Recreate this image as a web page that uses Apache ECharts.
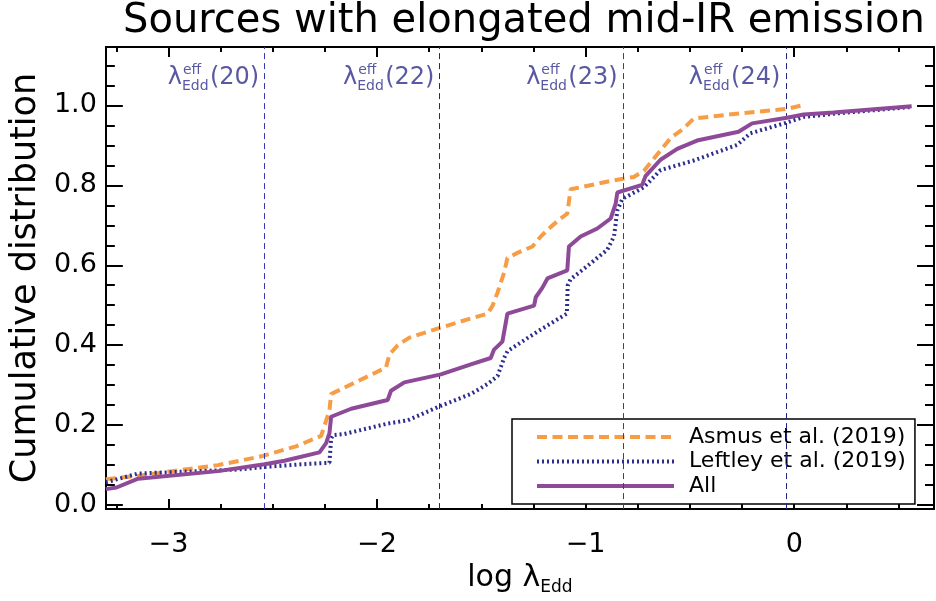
<!DOCTYPE html>
<html>
<head>
<meta charset="utf-8">
<script src="https://cdn.jsdelivr.net/npm/echarts@6/dist/echarts.min.js"></script>
<style>
  html, body { margin: 0; padding: 0; background: #fff; }
  #chart { width: 936px; height: 601px; }
</style>
</head>
<body>
<div id="chart"></div>
<script>
// 累积分布曲线数据
const asmusX = [-3.30, -3.145, -2.98, -2.762, -2.555, -2.388, -2.268, -2.228, -2.220, -2.172, -1.957, -1.941, -1.901, -1.845, -1.694, -1.550, -1.470, -1.446, -1.422, -1.391, -1.375, -1.327, -1.255, -1.215, -1.167, -1.120, -1.088, -1.072, -1.024, -0.880, -0.769, -0.721, -0.657, -0.593, -0.530, -0.482, -0.258, -0.035, 0.037];
const asmusY = [0.065, 0.073, 0.085, 0.100, 0.122, 0.147, 0.173, 0.237, 0.278, 0.290, 0.344, 0.376, 0.400, 0.419, 0.444, 0.467, 0.479, 0.499, 0.532, 0.581, 0.618, 0.631, 0.647, 0.672, 0.696, 0.717, 0.729, 0.790, 0.795, 0.811, 0.821, 0.836, 0.877, 0.918, 0.942, 0.967, 0.980, 0.991, 1.000];

const leftleyX = [-3.30, -3.145, -2.667, -2.523, -2.364, -2.228, -2.220, -2.212, -2.156, -1.949, -1.853, -1.710, -1.550, -1.470, -1.422, -1.391, -1.375, -1.231, -1.090, -1.086, -1.072, -0.992, -0.896, -0.864, -0.848, -0.824, -0.721, -0.641, -0.482, -0.274, -0.211, -0.035, 0.045, 0.188, 0.563];
const leftleyY = [0.057, 0.079, 0.089, 0.096, 0.102, 0.106, 0.167, 0.175, 0.178, 0.204, 0.212, 0.245, 0.278, 0.303, 0.323, 0.368, 0.385, 0.434, 0.479, 0.549, 0.565, 0.598, 0.639, 0.672, 0.737, 0.766, 0.795, 0.838, 0.862, 0.901, 0.930, 0.957, 0.971, 0.979, 0.996];

const allX = [-3.30, -3.249, -3.145, -2.762, -2.539, -2.444, -2.276, -2.244, -2.228, -2.220, -2.124, -1.949, -1.933, -1.869, -1.694, -1.550, -1.455, -1.439, -1.399, -1.375, -1.247, -1.239, -1.207, -1.183, -1.088, -1.080, -1.024, -0.944, -0.880, -0.856, -0.848, -0.729, -0.713, -0.641, -0.561, -0.466, -0.267, -0.202, -0.035, 0.045, 0.188, 0.563];
const allY = [0.040, 0.044, 0.066, 0.085, 0.102, 0.111, 0.132, 0.155, 0.180, 0.221, 0.241, 0.263, 0.286, 0.307, 0.327, 0.352, 0.368, 0.389, 0.409, 0.479, 0.499, 0.520, 0.544, 0.567, 0.587, 0.647, 0.672, 0.692, 0.717, 0.754, 0.782, 0.801, 0.823, 0.864, 0.891, 0.912, 0.934, 0.955, 0.969, 0.977, 0.982, 0.998];

// λ_Edd^eff 参考竖线
const refX = [-2.536, -1.696, -0.818, -0.038];
const refNames = ['20', '22', '23', '24'];
const refColors = ['#3636b0', '#24247e', '#3636b0', '#24247e'];
const refLabelY = 1.068;

// 刻度
const xMajorTicks = [-3, -2, -1, 0];
const xMinorTicks = [-3.25, -2.75, -2.5, -2.25, -1.75, -1.5, -1.25, -0.75, -0.5, -0.25, 0.25, 0.5];
const yMajorTicks = [0, 0.2, 0.4, 0.6, 0.8, 1.0];
const yMinorTicks = [0.05, 0.1, 0.15, 0.25, 0.3, 0.35, 0.45, 0.5, 0.55, 0.65, 0.7, 0.75, 0.85, 0.9, 0.95, 1.05, 1.1];

const X_MIN = -3.30, X_MAX = 0.67;
const Y_MIN = -0.01, Y_MAX = 1.146;

const FONT = 'DejaVu Sans';
const COLORS = { asmus: '#f79d46', leftley: '#2d2d8f', all: '#8e4a98', label: '#2e2e8c' };

const zip = (xs, ys) => xs.map((x, i) => [x, ys[i]]);

function makeXAxis(position, ticks, len, main) {
  return {
    type: 'value', min: X_MIN, max: X_MAX, position: position,
    axisLine: { show: main, onZero: false, lineStyle: { color: '#000', width: 2 } },
    axisTick: { show: true, inside: true, length: len, customValues: ticks, lineStyle: { color: '#000', width: 2 } },
    axisLabel: { show: false },
    splitLine: { show: false }
  };
}

function makeYAxis(position, ticks, len, main) {
  return {
    type: 'value', min: Y_MIN, max: Y_MAX, position: position,
    axisLine: { show: main, onZero: false, lineStyle: { color: '#000', width: 2 } },
    axisTick: { show: true, inside: true, length: len, customValues: ticks, lineStyle: { color: '#000', width: 2 } },
    axisLabel: { show: false },
    splitLine: { show: false }
  };
}

const xBottom = makeXAxis('bottom', xMajorTicks, 10, true);
xBottom.axisLabel = {
  show: true, customValues: xMajorTicks, margin: 22,
  fontSize: 27, fontFamily: FONT, color: '#000',
  formatter: v => String(v).replace('-', '\u2212')
};
xBottom.name = '{a|log λ}{s|Edd}';
xBottom.nameLocation = 'middle';
xBottom.nameGap = 42;
xBottom.nameTextStyle = {
  color: '#000',
  rich: {
    a: { fontSize: 30, fontFamily: FONT, lineHeight: 36, color: '#000' },
    s: { fontSize: 17, fontFamily: FONT, lineHeight: 18, verticalAlign: 'bottom', color: '#000' }
  }
};

const yLeft = makeYAxis('left', yMajorTicks, 17, true);
yLeft.axisLabel = {
  show: true, customValues: yMajorTicks, margin: 9,
  fontSize: 27, fontFamily: FONT, color: '#000',
  formatter: v => v.toFixed(1)
};
yLeft.name = 'Cumulative distribution';
yLeft.nameLocation = 'middle';
yLeft.nameGap = 56;
yLeft.nameTextStyle = { fontSize: 35, fontFamily: FONT, color: '#000' };

const lineSeries = (name, xs, ys, color, width, type, z) => ({
  name: name, type: 'line', data: zip(xs, ys),
  showSymbol: false, symbol: 'none', smooth: false, z: z,
  lineStyle: { color: color, width: width, type: type, cap: 'butt' },
  itemStyle: { color: color }
});

const option = {
  backgroundColor: '#fff',
  animation: false,
  title: {
    text: 'Sources with elongated mid-IR emission',
    left: 519, top: -3, textAlign: 'center',
    textStyle: { fontSize: 40, fontWeight: 'normal', fontFamily: FONT, color: '#000' }
  },
  grid: { left: 104, top: 47, width: 830, height: 470, containLabel: false },
  xAxis: [
    xBottom,
    makeXAxis('bottom', xMinorTicks, 5, false),
    makeXAxis('top', xMajorTicks, 10, true),
    makeXAxis('top', xMinorTicks, 5, false)
  ],
  yAxis: [
    yLeft,
    makeYAxis('left', yMinorTicks, 9, false),
    makeYAxis('right', yMajorTicks, 17, true),
    makeYAxis('right', yMinorTicks, 9, false)
  ],
  legend: {
    orient: 'vertical', left: 512, top: 419,
    padding: [7, 9, 7, 23], itemWidth: 137, itemHeight: 14, itemGap: 2.5,
    backgroundColor: '#fff', borderColor: '#000', borderWidth: 1.5, borderRadius: 0,
    itemStyle: { opacity: 0 },
    lineStyle: { width: 4 },
    textStyle: { fontSize: 22, fontFamily: FONT, color: '#000', lineHeight: 22, width: 216, padding: [0, 0, 0, 10] },
    data: ['Asmus et al. (2019)', 'Leftley et al. (2019)', 'All']
  },
  series: [
    {
      name: 'ref', type: 'line', data: [], z: 1, silent: true,
      markLine: {
        silent: true, symbol: 'none', animation: false,
        label: { show: false },
        data: refX.map((x, i) => ({ xAxis: x, lineStyle: { color: refColors[i], width: 1, type: [6, 4] } }))
      }
    },
    lineSeries('Asmus et al. (2019)', asmusX, asmusY, COLORS.asmus, 4, [10, 5.5], 3),
    lineSeries('Leftley et al. (2019)', leftleyX, leftleyY, COLORS.leftley, 4, [2, 3], 4),
    lineSeries('All', allX, allY, COLORS.all, 4, 'solid', 5),
    {
      name: 'refLabels', type: 'scatter', symbolSize: 0, silent: true, z: 6,
      data: refX.map((x, i) => [x, refLabelY, refNames[i]]),
      label: {
        show: true, position: 'left', distance: 6, color: COLORS.label,
        formatter: p => `{l|λ}{d|Edd}{e|eff}{p|(${p.value[2]})}`,
        rich: {
          l: { fontSize: 24, fontFamily: FONT, lineHeight: 30, align: 'left', color: COLORS.label },
          d: { fontSize: 14, fontFamily: FONT, lineHeight: 16, width: 1, align: 'left', verticalAlign: 'bottom', color: COLORS.label },
          e: { fontSize: 14, fontFamily: FONT, lineHeight: 16, width: 27, align: 'left', verticalAlign: 'top', color: COLORS.label },
          p: { fontSize: 24, fontFamily: FONT, lineHeight: 30, align: 'left', color: COLORS.label }
        }
      }
    }
  ]
};

const chart = echarts.init(document.getElementById('chart'), null, { renderer: 'canvas' });
chart.setOption(option);
</script>
</body>
</html>
